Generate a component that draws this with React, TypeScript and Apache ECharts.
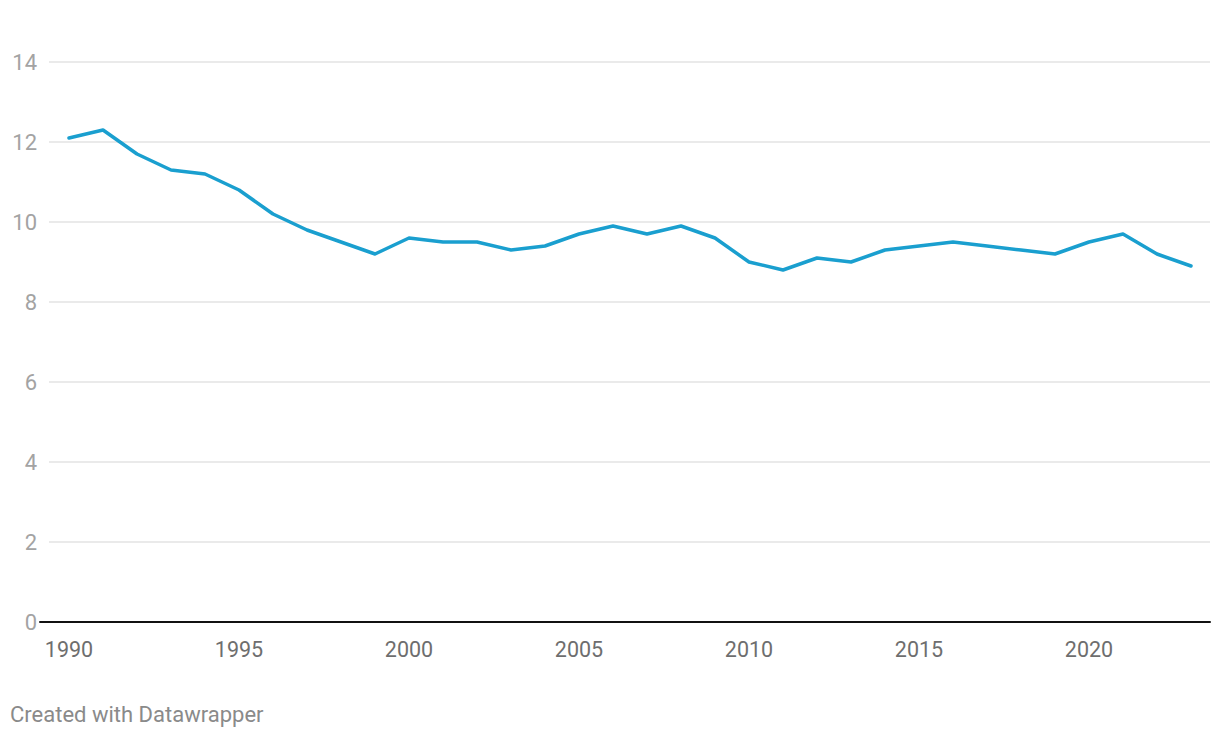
import React, { useEffect, useRef } from "react";
import * as echarts from "echarts";

const years: number[] = [
  1990, 1991, 1992, 1993, 1994, 1995, 1996, 1997, 1998, 1999, 2000, 2001,
  2002, 2003, 2004, 2005, 2006, 2007, 2008, 2009, 2010, 2011, 2012, 2013,
  2014, 2015, 2016, 2017, 2018, 2019, 2020, 2021, 2022, 2023,
];
const values: number[] = [
  12.1, 12.3, 11.7, 11.3, 11.2, 10.8, 10.2, 9.8, 9.5, 9.2, 9.6, 9.5,
  9.5, 9.3, 9.4, 9.7, 9.9, 9.7, 9.9, 9.6, 9.0, 8.8, 9.1, 9.0,
  9.3, 9.4, 9.5, 9.4, 9.3, 9.2, 9.5, 9.7, 9.2, 8.9,
];
const yMin = 0;
const yMax = 14;
const yStep = 2;
const xStep = 5;
const footer = "Created with Datawrapper";

export default function App() {
  const ref = useRef<HTMLDivElement>(null);
  useEffect(() => {
    document.body.style.margin = "0";
    if (!ref.current) return;
    const chart = echarts.init(ref.current, null, { renderer: "svg" });
    const font = "Roboto, 'Noto Sans', sans-serif";
    const top = 62;
    const bottom = 738 - 622;
    chart.setOption({
      animation: false,
      backgroundColor: "#ffffff",
      textStyle: { fontFamily: font },
      grid: [
        { left: 40, right: 10, top, bottom },
        { left: 49, right: 10, top, bottom },
        { left: 69, right: 29, top, bottom },
      ],
      xAxis: [
        {
          gridIndex: 0, type: "value", min: 0, max: 1,
          axisLine: { show: true, lineStyle: { color: "#111111", width: 2 } },
          axisTick: { show: false }, axisLabel: { show: false }, splitLine: { show: false },
        },
        {
          gridIndex: 1, type: "value", min: 0, max: 1, show: false,
        },
        {
          gridIndex: 2, type: "value", min: years[0], max: years[years.length - 1],
          interval: xStep,
          axisLine: { show: false }, axisTick: { show: false }, splitLine: { show: false },
          axisLabel: {
            color: "#6e6e6e", fontSize: 21.5, margin: 16, fontFamily: font,
            showMaxLabel: false,
            formatter: (v: number) => (v % xStep === 0 ? String(v) : ""),
          },
        },
      ],
      yAxis: [
        { gridIndex: 0, type: "value", min: yMin, max: yMax, show: false },
        {
          gridIndex: 1, type: "value", min: yMin, max: yMax, interval: yStep,
          axisLine: { show: false }, axisTick: { show: false },
          axisLabel: { color: "#a3a3a3", fontSize: 22, margin: 12, fontFamily: font },
          splitLine: { lineStyle: { color: "#e3e3e3", width: 1.5 } },
        },
        { gridIndex: 2, type: "value", min: yMin, max: yMax, show: false },
      ],
      graphic: [
        {
          type: "text", left: 10, top: 703,
          style: { text: footer, fill: "#8a8a8a", fontSize: 22, fontFamily: font },
        },
      ],
      series: [
        {
          type: "line",
          xAxisIndex: 2,
          yAxisIndex: 2,
          data: years.map((y, i) => [y, values[i]]),
          showSymbol: false,
          symbol: "none",
          lineStyle: { color: "#1a9fcf", width: 3.5, cap: "round", join: "round" },
          z: 5,
        },
      ],
    });
    return () => chart.dispose();
  }, []);
  return <div ref={ref} style={{ width: 1220, height: 738 }} />;
}
